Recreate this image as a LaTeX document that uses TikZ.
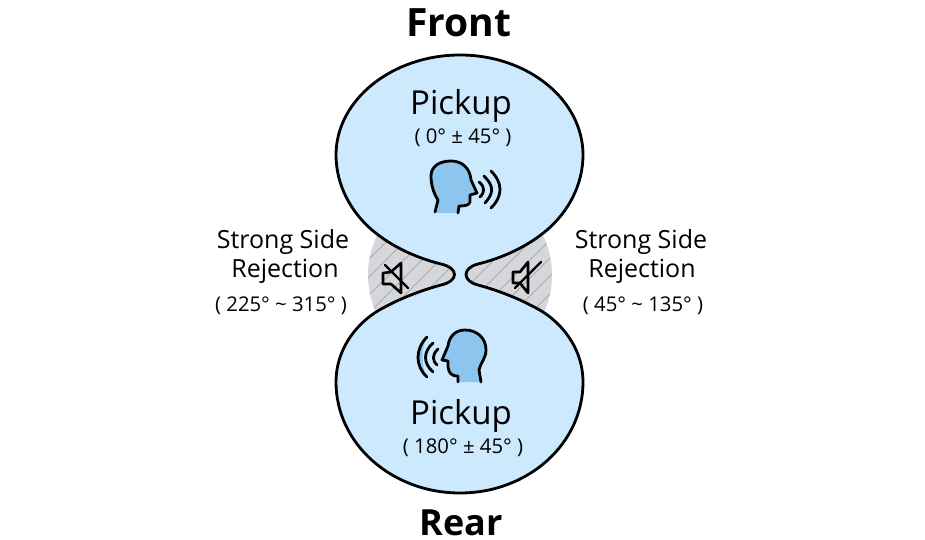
\documentclass[tikz,border=0pt]{standalone}
\usepackage{fontspec}
\setmainfont{Open Sans}
\definecolor{lobe}{HTML}{CDE9FD}
\definecolor{headblue}{HTML}{8CC6EF}
\definecolor{rejgray}{HTML}{D5D7DA}
\definecolor{hatchgray}{HTML}{A8ACB1}
\tikzset{
  title/.style={font=\fontsize{39}{42}\selectfont\bfseries,inner sep=0pt,anchor=base},
  pick/.style={font=\fontsize{33}{36}\selectfont,inner sep=0pt,anchor=base},
  angle/.style={font=\fontsize{20.3}{24}\selectfont,inner sep=0pt,anchor=base},
  side/.style={font=\fontsize{25}{28}\selectfont,inner sep=0pt,anchor=base},
  icon/.style={line width=2.8pt,line cap=round,line join=round},
  outline/.style={line width=2.8pt,fill=lobe,line join=round},
}
\begin{document}
\begin{tikzpicture}[x=1pt,y=-1pt]
\useasboundingbox (0,0) rectangle (925,540);
% rejection circle with hatching
\fill[rejgray] (460,275) circle[radius=92];
\begin{scope}
\clip (460,275) circle[radius=92];
\foreach \k in {-12,...,24}{
  \draw[hatchgray,line width=1pt] ({300+\k*18},400) -- ({300+\k*18+170},230);
}
\end{scope}
% lobes
\draw[outline] (460,55)
  .. controls (528,55) and (583,100) .. (583,155)
  .. controls (583,185) and (568,212) .. (547,230)
  .. controls (527,247) and (502,258) .. (478,264)
  .. controls (462,268) and (462,281) .. (478,285)
  .. controls (500,291) and (523,300) .. (543,312)
  .. controls (566,327) and (583,352) .. (583,382)
  .. controls (583,444) and (528,493) .. (460,493)
  .. controls (392,493) and (336,444) .. (336,382)
  .. controls (336,352) and (353,327) .. (376,312)
  .. controls (396,300) and (419,291) .. (441,285)
  .. controls (459,281) and (459,268) .. (441,264)
  .. controls (417,258) and (392,247) .. (372,230)
  .. controls (351,212) and (336,185) .. (336,155)
  .. controls (336,100) and (392,55) .. (460,55) -- cycle;
% top head
\fill[headblue] (436,213) -- (438,200) .. controls (433,192) and (431,184) .. (431,176)
  .. controls (431,166) and (440,161) .. (451,161)
  .. controls (462,161) and (470,168) .. (471,180)
  -- (477,193) -- (470,195) -- (470,202) .. controls (469,205) and (466,206) .. (459,206) -- (458,213) -- cycle;
\draw[icon] (435,212) -- (438,200) .. controls (433,192) and (431,184) .. (431,176)
  .. controls (431,166) and (440,161) .. (451,161)
  .. controls (462,161) and (470,168) .. (471,180)
  -- (477,193) -- (470,195) -- (470,202) .. controls (469,205) and (466,206) .. (459,206) -- (458,213);
\draw[icon] (479,182) .. controls (485,187) and (485,192) .. (480,197);
\draw[icon] (484,176) .. controls (494,186) and (494,193) .. (485,203);
\draw[icon] (491,171) .. controls (503,183) and (503,196) .. (491,208);
% bottom head
\fill[headblue] (458,382) -- (458,376) .. controls (451,376) and (449,373) .. (448,367)
  -- (448,361) -- (442,360) -- (448,346)
  .. controls (449,337) and (455,330) .. (465,330)
  .. controls (477,330) and (486,338) .. (486,350)
  .. controls (486,358) and (481,362) .. (479,370) -- (481,382) -- cycle;
\fill[headblue] (427,337) .. controls (415,349) and (415,366) .. (427,377)
  .. controls (421,366) and (421,349) .. (427,337) -- cycle;
\draw[icon] (458,382) -- (458,376) .. controls (451,376) and (449,373) .. (448,367)
  -- (448,361) -- (442,360) -- (448,346)
  .. controls (449,337) and (455,330) .. (465,330)
  .. controls (477,330) and (486,338) .. (486,350)
  .. controls (486,358) and (481,362) .. (479,370) -- (481,382);
\draw[icon] (438,349) .. controls (432,355) and (432,360) .. (437,365);
\draw[icon] (433,343) .. controls (423,352) and (423,363) .. (433,372);
\draw[icon] (427,337) .. controls (415,349) and (415,366) .. (427,377);
% speakers
\draw[icon,line width=2.6pt] (383,273) -- (383,284) -- (391,284) -- (401,293) -- (401,263) -- (391,272) -- cycle;
\draw[icon,line width=2.4pt] (385,265) -- (408,288);
\draw[icon,line width=2.6pt] (513,272) -- (513,283) -- (520,283) -- (528,293) -- (528,262) -- (520,272) -- cycle;
\draw[icon,line width=2.4pt] (541,262) -- (515,288);
% text
\node[title] (front) at (459,37) {Front};
\node[font=\fontsize{36}{40}\selectfont\bfseries,inner sep=0pt,anchor=base] (rear) at (461,535) {Rear};
\node[pick] (pickup1) at (461,115) {Pickup};
\node[angle] (range1) at (463,144) {( 0° ± 45° )};
\node[pick] (pickup2) at (461,424) {Pickup};
\node[angle] (range2) at (463,453) {( 180° ± 45° )};
\node[side] (ls1) at (283,248) {Strong Side};
\node[side] (ls2) at (285,277) {Rejection};
\node[angle] (ls3) at (281,311) {( 225° \textasciitilde{} 315° )};
\node[side] (rs1) at (641,248) {Strong Side};
\node[side] (rs2) at (642,277) {Rejection};
\node[angle] (rs3) at (643,311) {( 45° \textasciitilde{} 135° )};
\end{tikzpicture}
\end{document}
